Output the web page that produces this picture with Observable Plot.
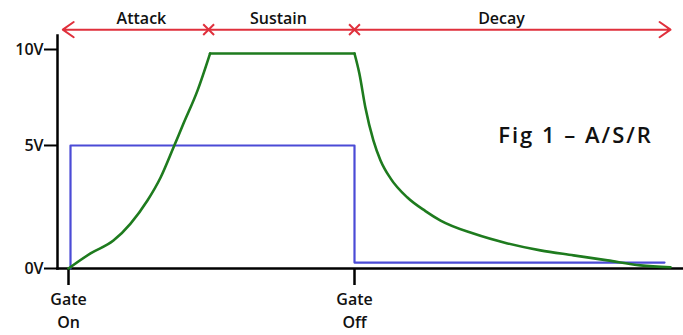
<!DOCTYPE html>
<html>
<head>
<meta charset="utf-8">
<script src="https://cdn.jsdelivr.net/npm/d3@7"></script>
<script src="https://cdn.jsdelivr.net/npm/@observablehq/plot@0.6"></script>
<style>
  html, body { margin: 0; padding: 0; background: #fff; }
  #chart { width: 683px; height: 335px; }
  svg { font-family: "Open Sans", sans-serif; }
  text[aria-label="fig-title"] { letter-spacing: 2px; }
</style>
</head>
<body>
<div id="chart"></div>
<script>
// Envelope (green) — time in units where Gate On = 0, Gate Off = 100; voltage in V
const envT = [0, 7.7, 15.7, 21.7, 27.6, 32.2, 36.7, 40.2, 45.1, 49.5, 100, 101.7, 103.8, 106.6, 109.1, 112.6, 118.5, 124.8, 130.1, 141.6, 153.5, 165, 176.6, 188.5, 200, 210.5];
const envV = [0, 0.40, 0.84, 1.49, 2.45, 3.48, 4.90, 6.09, 7.79, 9.78, 9.78, 8.70, 6.91, 5.25, 4.28, 3.44, 2.58, 2.00, 1.61, 1.10, 0.74, 0.50, 0.34, 0.19, 0.06, 0.02];
// Stage boundaries of the envelope (time)
const attackEnd = 49.5;
const releaseStart = 100;

// Gate signal (blue)
const gateT = [0.7, 0.7, 100, 100, 208.4];
const gateV = [0, 5, 5, 0.13, 0.13];

// Y ticks
const yTicks = [0, 5, 10];
const yTickLabels = ["0V", "5V", "10V"];

// X ticks (gate events)
const gateTicks = [0, 100];
const gateLabels = ["Gate\nOn", "Gate\nOff"];

// Phases across the top
const phaseNames = ["Attack", "Sustain", "Decay"];
const phaseStart = [-2, 49, 100];
const phaseEnd = [49, 100, 210.5];
const phaseLabelT = [25.5, 73.4, 151.4];
const phaseLevel = 11.1;

// Figure title
const figTitle = "Fig 1 \u2013 A/S/R";
const figTitleT = 177.3;
const figTitleV = 5.49;

const env = envT.map((t, i) => ({t, v: envV[i]}));
const attackPts = env.filter(d => d.t <= attackEnd);
const sustainPts = env.filter(d => d.t >= attackEnd && d.t <= releaseStart);
const decayPts = env.filter(d => d.t >= releaseStart);
const gate = gateT.map((t, i) => ({t, v: gateV[i]}));
const phases = phaseNames.map((name, i) => ({name, start: phaseStart[i], end: phaseEnd[i], mid: phaseLabelT[i], v: phaseLevel}));
const marksX = [phaseStart[1], phaseStart[2]].map(t => ({t, v: phaseLevel}));

const red = "#e0303c";
const green = "#1e7b1e";
const ink = "#111";

const chart = Plot.plot({
  width: 683,
  height: 335,
  marginLeft: 57,
  marginRight: 0,
  marginTop: 35,
  marginBottom: 67,
  x: {domain: [0, 100], range: [68, 354], axis: null},
  y: {type: "pow", exponent: 0.832, domain: [0, 10], range: [268, 49], axis: null},
  style: {fontFamily: "'Open Sans', sans-serif", background: "#fff"},
  marks: [
    Plot.frame({anchor: "left", stroke: "#000", strokeWidth: 2.5}),
    Plot.frame({anchor: "bottom", stroke: "#000", strokeWidth: 2.5}),
    Plot.axisY({ticks: yTicks, tickFormat: d => yTickLabels[yTicks.indexOf(d)], label: null, tickSize: 13, tickPadding: 1, strokeWidth: 2, fontSize: 16, fontWeight: 600, fill: ink}),
    Plot.axisX({ticks: gateTicks, tickFormat: d => gateLabels[gateTicks.indexOf(d)], label: null, tickSize: 17, tickPadding: 4, strokeWidth: 2.5, fontSize: 16, fontWeight: 600, fill: ink, lineHeight: 1.4}),
    Plot.line(gate, {x: "t", y: "v", stroke: "#4b4bd6", strokeWidth: 2.2}),
    Plot.line(attackPts, {x: "t", y: "v", stroke: green, strokeWidth: 2.6, curve: "monotone-x"}),
    Plot.line(sustainPts, {x: "t", y: "v", stroke: green, strokeWidth: 2.6, curve: "linear"}),
    Plot.line(decayPts, {x: "t", y: "v", stroke: green, strokeWidth: 2.6, curve: "monotone-x"}),
    Plot.arrow(phases.slice(0, 1), {x1: "end", x2: "start", y1: "v", y2: "v", stroke: red, strokeWidth: 2, headLength: 10, headAngle: 70}),
    Plot.arrow(phases.slice(1, 2), {x1: "start", x2: "end", y1: "v", y2: "v", stroke: red, strokeWidth: 2, headLength: 0}),
    Plot.arrow(phases.slice(2, 3), {x1: "start", x2: "end", y1: "v", y2: "v", stroke: red, strokeWidth: 2, headLength: 10, headAngle: 70}),
    Plot.dot(marksX, {x: "t", y: "v", symbol: "times", r: 5, stroke: red, strokeWidth: 2}),
    Plot.text(phases, {x: "mid", y: "v", text: "name", dy: -11, fontSize: 16, fontWeight: 600, fill: ink}),
    Plot.text([figTitle], {x: figTitleT, y: figTitleV, text: d => d, ariaLabel: () => "fig-title", fontSize: 22, fontWeight: 600, fill: ink})
  ]
});
document.getElementById("chart").appendChild(chart);
</script>
</body>
</html>
